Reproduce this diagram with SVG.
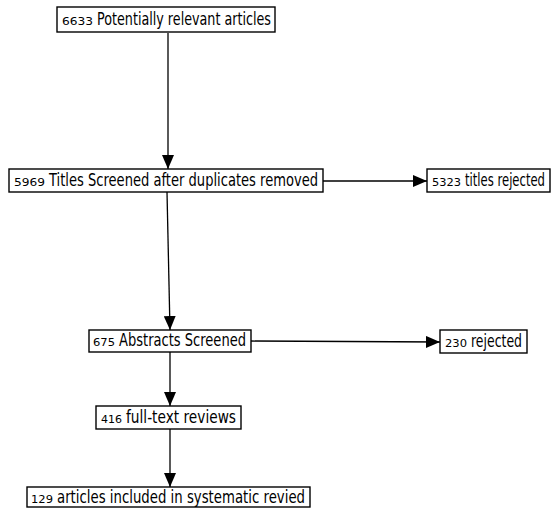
<svg xmlns="http://www.w3.org/2000/svg" width="551" height="508" viewBox="0 0 551 508">
<style>
.box{fill:#fff;stroke:#000;stroke-width:1.4}
.n{font-family:"DejaVu Sans","Liberation Sans",sans-serif;font-size:11px;fill:#000}
.t{font-family:"DejaVu Sans","Liberation Sans",sans-serif;font-size:17px;fill:#000}
.c{stroke:#000;stroke-width:1.3;fill:none;marker-end:url(#ah)}
</style>
<defs>
<marker id="ah" markerUnits="userSpaceOnUse" markerWidth="14" markerHeight="12" refX="14" refY="6" orient="auto">
<path d="M0,0 L14,6 L0,12 z" fill="#000"/>
</marker>
</defs>
<rect width="551" height="508" fill="#fff"/>
<g id="connectors">
<line class="c" x1="168" y1="33" x2="168" y2="169"/>
<line class="c" x1="323" y1="181" x2="427" y2="181"/>
<line class="c" x1="167" y1="192" x2="170" y2="330"/>
<line class="c" x1="251" y1="341" x2="440" y2="342"/>
<line class="c" x1="170" y1="352" x2="170" y2="406"/>
<line class="c" x1="170" y1="429" x2="170" y2="487"/>
</g>
<g id="n1">
<rect class="box" x="57" y="7" width="218" height="25"/>
<text class="n" x="62" y="25" textLength="31" lengthAdjust="spacingAndGlyphs">6633</text>
<text class="t" x="97" y="25" textLength="174" lengthAdjust="spacingAndGlyphs">Potentially relevant articles</text>
</g>
<g id="n2">
<rect class="box" x="9" y="169" width="314" height="23"/>
<text class="n" x="14" y="186" textLength="31" lengthAdjust="spacingAndGlyphs">5969</text>
<text class="t" x="49" y="186" textLength="269" lengthAdjust="spacingAndGlyphs">Titles Screened after duplicates removed</text>
</g>
<g id="n3">
<rect class="box" x="427" y="169" width="123" height="23"/>
<text class="n" x="432" y="186" textLength="29" lengthAdjust="spacingAndGlyphs">5323</text>
<text class="t" x="465" y="186" textLength="80" lengthAdjust="spacingAndGlyphs">titles rejected</text>
</g>
<g id="n4">
<rect class="box" x="89" y="330" width="162" height="22"/>
<text class="n" x="93" y="346" textLength="22" lengthAdjust="spacingAndGlyphs">675</text>
<text class="t" x="119" y="346" textLength="127" lengthAdjust="spacingAndGlyphs">Abstracts Screened</text>
</g>
<g id="n5">
<rect class="box" x="440" y="330" width="87" height="23"/>
<text class="n" x="445" y="347" textLength="22" lengthAdjust="spacingAndGlyphs">230</text>
<text class="t" x="471" y="347" textLength="51" lengthAdjust="spacingAndGlyphs">rejected</text>
</g>
<g id="n6">
<rect class="box" x="96" y="406" width="145" height="23"/>
<text class="n" x="101" y="423" textLength="21" lengthAdjust="spacingAndGlyphs">416</text>
<text class="t" x="126" y="423" textLength="110" lengthAdjust="spacingAndGlyphs">full-text reviews</text>
</g>
<g id="n7">
<rect class="box" x="27" y="487" width="283" height="20"/>
<text class="n" x="31" y="503" textLength="22" lengthAdjust="spacingAndGlyphs">129</text>
<text class="t" x="57" y="503" textLength="248" lengthAdjust="spacingAndGlyphs">articles included in systematic revied</text>
</g>
</svg>
